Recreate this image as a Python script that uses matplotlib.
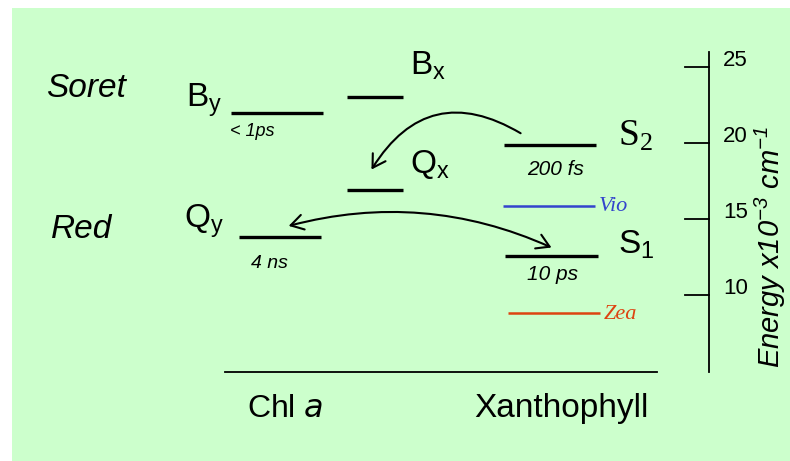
import matplotlib
matplotlib.use('Agg')
import matplotlib.pyplot as plt
from matplotlib.patches import Rectangle, FancyArrowPatch

plt.rcParams['font.family'] = ['Liberation Sans', 'DejaVu Sans']
plt.rcParams['mathtext.default'] = 'regular'

# energy levels, in units of 10^3 cm^-1
chl_names = ['By', 'Bx', 'Qx', 'Qy']
chl_energy = [22.0, 23.0, 16.9, 13.8]
xan_names = ['S2', 'S1']
xan_energy = [19.9, 12.6]
car_names = ['Vio', 'Zea']
car_energy = [15.85, 8.8]
lifetimes = {'By': '< 1ps', 'Qy': '4 ns', 'S2': '200 fs', 'S1': '10 ps'}
energy_ticks = [10, 15, 20, 25]

# horizontal extent of each level on the canvas
span = {'By': (231, 323), 'Bx': (347, 403), 'Qx': (347, 403), 'Qy': (239, 321),
        'S2': (504, 596), 'S1': (505, 598), 'Vio': (503, 595), 'Zea': (508, 600)}

fig = plt.figure(figsize=(7.9, 4.61), dpi=100)
fig.patch.set_facecolor('white')
fig.patches.append(Rectangle((12 / 790, 0), 1, (461 - 8) / 461, transform=fig.transFigure,
                             facecolor='#ccffcc', edgecolor='none', zorder=-10))
ax = fig.add_axes([0, 0, 1, 1])
ax.set_xlim(0, 790)
ax.set_ylim(-0.92, 29.41)
ax.axis('off')

# main levels
for name, e in zip(chl_names + xan_names, chl_energy + xan_energy):
    x0, x1 = span[name]
    ax.plot([x0, x1], [e, e], color='black', lw=2.4, solid_capstyle='butt')

# carotenoid S1 levels
car_colors = ['#3344cc', '#dd4411']
for name, e, c in zip(car_names, car_energy, car_colors):
    x0, x1 = span[name]
    ax.plot([x0, x1], [e, e], color=c, lw=1.8, solid_capstyle='butt')
    ax.text(x1 + 4, e - 0.05, name, color=c, fontsize=16, style='italic',
            family='Liberation Serif', va='center', ha='left')

big = 24
lv = dict(zip(chl_names + xan_names, chl_energy + xan_energy))
ax.text(186, lv['By'] + 0.4, r'$\mathregular{B_y}$', fontsize=big, va='baseline')
ax.text(410, lv['Bx'] + 1.5, r'$\mathregular{B_x}$', fontsize=big, va='baseline')
ax.text(410, lv['Qx'] + 1.1, r'$\mathregular{Q_x}$', fontsize=big, va='baseline')
ax.text(184, lv['Qy'] + 0.65, r'$\mathregular{Q_y}$', fontsize=big, va='baseline')
ax.text(618, lv['S2'] - 0.05, r'$\mathregular{S_2}$', fontsize=27,
        family='Liberation Serif', va='baseline')
ax.text(618, lv['S1'] + 0.15, r'$\mathregular{S_1}$', fontsize=big, va='baseline')

# lifetimes under the levels
life_size = {'By': 13, 'Qy': 14, 'S2': 15, 'S1': 15}
life_x = {'By': 230, 'Qy': 251, 'S2': 527, 'S1': 527}
life_drop = {'By': 1.55, 'Qy': 2.0, 'S2': 2.0, 'S1': 1.6}
for name, txt in lifetimes.items():
    ax.text(life_x[name], lv[name] - life_drop[name], txt, fontsize=life_size[name],
            style='italic', va='baseline', ha='left')

ax.text(46, 23.6, 'Soret', fontsize=big, style='italic', va='center')
ax.text(51, 14.3, 'Red', fontsize=big, style='italic', va='center')
ax.text(285, 2.0, r'Chl $\mathit{a}$', fontsize=23, ha='center', va='baseline')
ax.text(561, 2.0, 'Xanthophyll', fontsize=24, ha='center', va='baseline')

# baseline under the two molecules
ax.plot([225, 657], [4.95, 4.95], color='black', lw=1.3)

# energy scale
ax.plot([709, 709], [4.95, 26.0], color='black', lw=1.3)
for t in energy_ticks:
    ax.plot([685, 709], [t, t], color='black', lw=1.3)
    ax.text(723, t + 0.05, str(t), fontsize=16, va='baseline', ha='left')
ax.text(770, 13.2, r'Energy x10$^{-3}$ cm$^{-1}$', fontsize=21, style='italic',
        rotation=90, ha='center', va='center')

# transfer arrows
a1 = FancyArrowPatch((523, lv['S2'] + 0.65), (370, lv['Qx'] + 1.2),
                     connectionstyle='arc3,rad=0.5', arrowstyle='->,head_length=0.5,head_width=0.3',
                     mutation_scale=18, lw=1.5, color='black')
ax.add_patch(a1)
a2 = FancyArrowPatch((286, lv['Qy'] + 0.7), (554, lv['S1'] + 0.45),
                     connectionstyle='arc3,rad=-0.18', arrowstyle='<->,head_length=0.5,head_width=0.3',
                     mutation_scale=18, lw=1.5, color='black')
ax.add_patch(a2)

fig.savefig('out.png', dpi=100)
